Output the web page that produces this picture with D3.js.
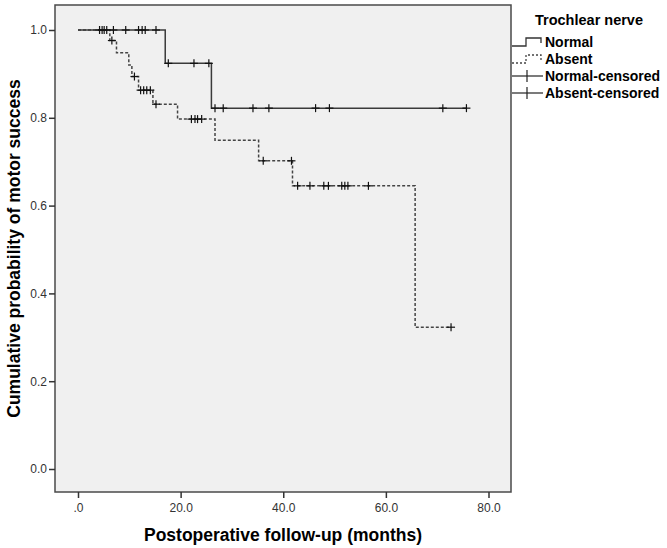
<!DOCTYPE html>
<html>
<head>
<meta charset="utf-8">
<script src="https://cdn.jsdelivr.net/npm/d3@7"></script>
<style>
  body { margin: 0; background: #fff; }
  svg { display: block; font-family: "Liberation Sans", Arial, sans-serif; }
</style>
</head>
<body>
<svg id="chart" width="667" height="548"></svg>
<script>
// Kaplan-Meier steps: [time, survival after the step]
const normalSteps = [[0, 1], [17.0, 0.924], [26.0, 0.822]];
const normalEnd = 75.7;
const absentSteps = [[0, 1], [6.2, 0.976], [7.5, 0.948], [9.9, 0.920], [10.5, 0.894],
  [11.8, 0.863], [14.6, 0.831], [19.4, 0.797], [26.7, 0.749], [35.2, 0.702],
  [41.8, 0.645], [65.7, 0.323]];
const absentEnd = 72.7;

// censored times
const normalCensored = [4.2, 5.1, 6.9, 9.3, 11.8, 12.5, 13.1, 15.2,
  17.6, 22.6, 25.5,
  26.7, 28.3, 34.1, 37.2, 46.3, 49.0, 71.1, 75.7];
const absentCensored = [4.7, 5.6, 6.6, 11.0, 12.2, 12.8, 13.4, 14.1, 15.2,
  22.1, 22.8, 23.3, 24.1, 36.1, 41.6,
  42.8, 45.2, 47.9, 48.8, 51.4, 52.0, 52.6, 56.6, 72.7];

const xTicks = [0, 20, 40, 60, 80];
const yTicks = [0, 0.2, 0.4, 0.6, 0.8, 1.0];
const legendItems = ["Normal", "Absent", "Normal-censored", "Absent-censored"];

const svg = d3.select("#chart");
const frame = { left: 55, top: 5, right: 511, bottom: 492 };

const x = d3.scaleLinear().domain([0, 80]).range([78, 488.5]);
const y = d3.scaleLinear().domain([0, 1]).range([469, 30]);

// plot background
svg.append("rect")
  .attr("x", frame.left).attr("y", frame.top)
  .attr("width", frame.right - frame.left)
  .attr("height", frame.bottom - frame.top)
  .attr("fill", "#f0f0f0")
  .attr("stroke", "#4a4a4a")
  .attr("stroke-width", 1.5);

// axes
const yAxis = svg.append("g")
  .attr("transform", `translate(${frame.left},0)`)
  .call(d3.axisLeft(y).tickValues(yTicks).tickFormat(d3.format(".1f")).tickSize(6).tickPadding(2));
const xAxis = svg.append("g")
  .attr("transform", `translate(0,${frame.bottom})`)
  .call(d3.axisBottom(x).tickValues(xTicks)
    .tickFormat(d => d === 0 ? ".0" : d.toFixed(1)).tickSize(6).tickPadding(5));
[xAxis, yAxis].forEach(a => {
  a.select(".domain").remove();
  a.selectAll(".tick line").attr("stroke", "#333").attr("stroke-width", 1.5);
  a.selectAll(".tick text").attr("fill", "#333").style("font-size", "12px")
    .style("font-family", "Liberation Sans, Arial, sans-serif");
});

// step helpers
function stepValue(steps, t) {
  let s = steps[0][1];
  steps.forEach(d => { if (d[0] <= t) s = d[1]; });
  return s;
}
function stepPath(steps, end) {
  const pts = [];
  steps.forEach((d, i) => {
    if (i > 0) pts.push([d[0], steps[i - 1][1]]);
    pts.push(d);
  });
  pts.push([end, steps[steps.length - 1][1]]);
  return d3.line().x(d => x(d[0])).y(d => y(d[1]))(pts);
}

svg.append("path")
  .attr("d", stepPath(absentSteps, absentEnd))
  .attr("fill", "none").attr("stroke", "#444")
  .attr("stroke-width", 1.5).attr("stroke-dasharray", "3,2");
svg.append("path")
  .attr("d", stepPath(normalSteps, normalEnd))
  .attr("fill", "none").attr("stroke", "#3a3a3a")
  .attr("stroke-width", 1.5);

// censor marks
function plus(g, cx, cy) {
  g.append("line").attr("x1", cx - 4).attr("x2", cx + 4).attr("y1", cy).attr("y2", cy);
  g.append("line").attr("x1", cx).attr("x2", cx).attr("y1", cy - 4).attr("y2", cy + 4);
}
const marks = svg.append("g").attr("stroke", "#111").attr("stroke-width", 1.2);
normalCensored.forEach(t => plus(marks, x(t), y(stepValue(normalSteps, t))));
absentCensored.forEach(t => plus(marks, x(t), y(stepValue(absentSteps, t))));

// axis titles
svg.append("text")
  .attr("x", (frame.left + frame.right) / 2).attr("y", 541)
  .attr("text-anchor", "middle")
  .style("font-size", "17.5px").style("font-weight", "bold")
  .text("Postoperative follow-up (months)");
svg.append("text")
  .attr("transform", `translate(20,${(frame.top + frame.bottom) / 2}) rotate(-90)`)
  .attr("text-anchor", "middle")
  .style("font-size", "17.5px").style("font-weight", "bold")
  .text("Cumulative probability of motor success");

// legend
const lg = svg.append("g");
lg.append("text").attr("x", 535).attr("y", 25)
  .style("font-size", "14.5px").style("font-weight", "bold").text("Trochlear nerve");
const rowY = [42, 59, 76, 93];
lg.selectAll("text.item").data(legendItems).enter().append("text")
  .attr("class", "item")
  .attr("x", 545).attr("y", (d, i) => rowY[i] + 5)
  .style("font-size", "14px").style("font-weight", "bold")
  .text(d => d);
const sym = d3.line();
lg.append("path")
  .attr("d", sym([[512, rowY[0] + 4], [526, rowY[0] + 4], [526, rowY[0] - 4], [541, rowY[0] - 4], [541, rowY[0] + 1]]))
  .attr("fill", "none").attr("stroke", "#333").attr("stroke-width", 1.3);
lg.append("path")
  .attr("d", sym([[512, rowY[1] + 4], [526, rowY[1] + 4], [526, rowY[1] - 4], [541, rowY[1] - 4], [541, rowY[1] + 1]]))
  .attr("fill", "none").attr("stroke", "#444").attr("stroke-width", 1.3).attr("stroke-dasharray", "2,2");
[2, 3].forEach(i => {
  const g = lg.append("g").attr("stroke", "#222").attr("stroke-width", 1.2);
  g.append("line").attr("x1", 512).attr("x2", 543).attr("y1", rowY[i]).attr("y2", rowY[i]);
  g.append("line").attr("x1", 527).attr("x2", 527).attr("y1", rowY[i] - 6).attr("y2", rowY[i] + 6);
});
</script>
</body>
</html>
